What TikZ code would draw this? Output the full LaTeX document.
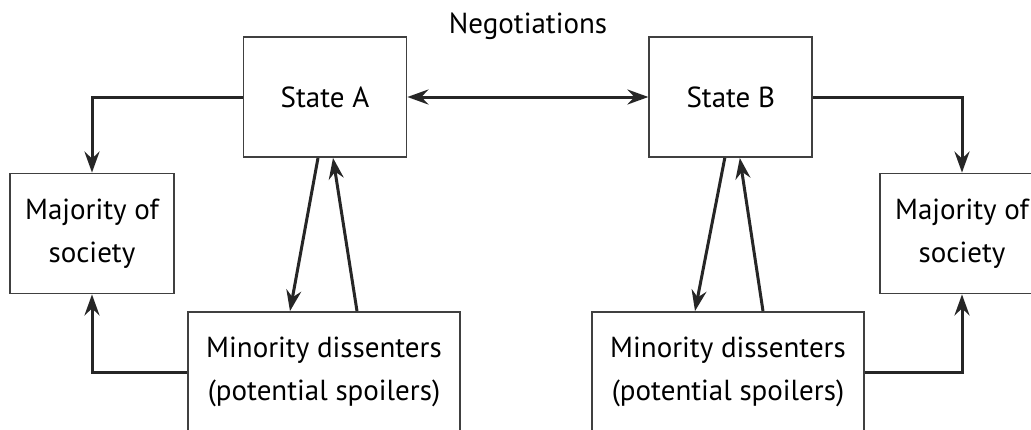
\documentclass[tikz,border=0pt]{standalone}
\usepackage{fontspec}
\setmainfont{PT Sans}
\usetikzlibrary{arrows.meta, positioning}

\tikzset{
  actor/.style={draw=black!75, line width=1.8pt, fill=white, minimum width=163pt, minimum height=120pt, align=center, inner sep=0pt},
  link/.style={draw=black!85, line width=3pt},
  tip/.style={-{Stealth[length=21pt, width=15pt, inset=7pt]}},
}

\begin{document}
\begin{tikzpicture}[x=1pt, y=1pt, font=\fontsize{29}{43}\selectfont]
\useasboundingbox[fill=white] (0,0) rectangle (1031,-429);

% the two states
\node[actor] (statea) at (325,-97) {State A};
\node[actor, right=241pt of statea] (stateb) {State B};
\node (negot) at (528,-26) {Negotiations};

% societies on each side
\node[actor, minimum width=164pt] (maja) at (92,-233.5) {Majority of\\society};
\node[actor, minimum width=164pt] (majb) at (962,-233.5) {Majority of\\society};

% possible spoilers
\node[actor, minimum width=272pt] (mina) at (324,-372) {Minority dissenters\\(potential spoilers)};
\node[actor, minimum width=272pt] (minb) at (728,-372) {Minority dissenters\\(potential spoilers)};

% negotiations
\draw[link, {Stealth[length=21pt, width=15pt, inset=7pt]}-{Stealth[length=21pt, width=15pt, inset=7pt]}] (statea) -- (stateb);

% state to majority
\draw[link, tip] (statea.west) -| (maja);
\draw[link, tip] (stateb.east) -| (majb);

% minority to majority
\draw[link, tip] (mina.west) -| (maja);
\draw[link, tip] (minb.east) -| (majb);

% state and minority
\draw[link, tip] ([xshift=-7pt]statea.south) -- ([xshift=-34pt]mina.north);
\draw[link, tip] ([xshift=33pt]mina.north) -- ([xshift=8pt]statea.south);
\draw[link, tip] ([xshift=-6pt]stateb.south) -- ([xshift=-33pt]minb.north);
\draw[link, tip] ([xshift=35pt]minb.north) -- ([xshift=9pt]stateb.south);
\end{tikzpicture}
\end{document}
